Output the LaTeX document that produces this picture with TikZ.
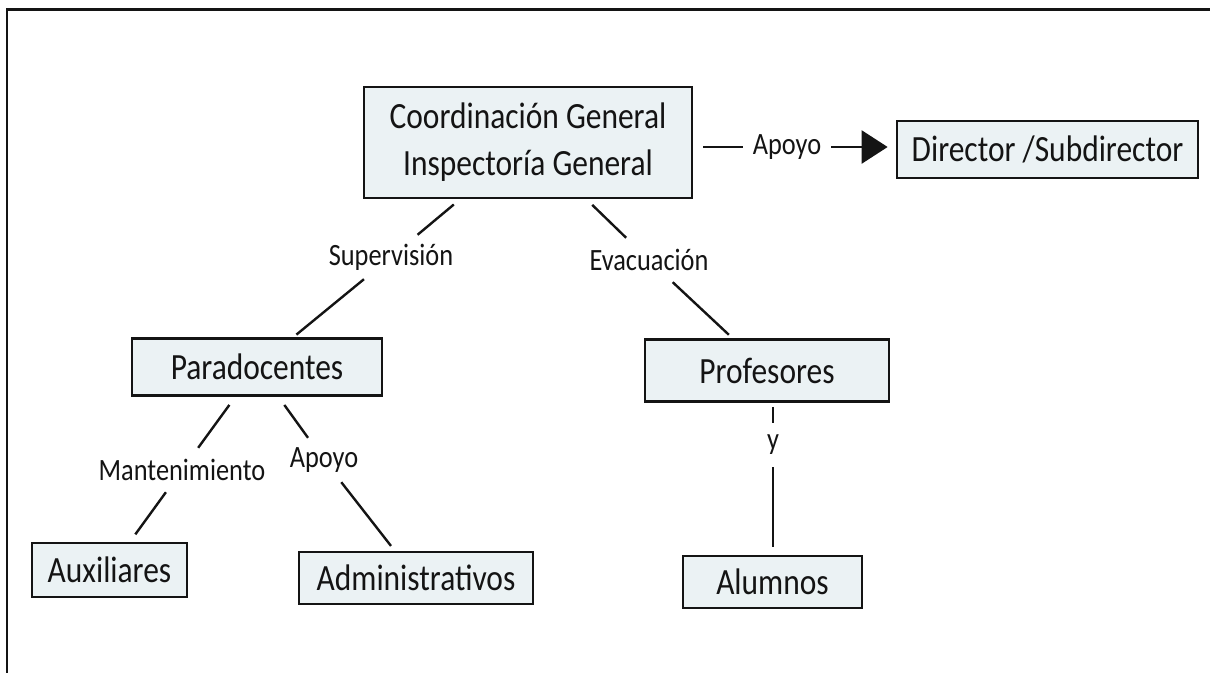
\documentclass[tikz,border=0pt]{standalone}
\usepackage{fontspec}
\setmainfont{Carlito}
\newfontfamily\bxf[FakeStretch=0.85]{Carlito}
\usetikzlibrary{arrows.meta,calc}
\definecolor{boxfill}{HTML}{EBF2F4}
\definecolor{ink}{HTML}{141414}
\begin{document}
\begin{tikzpicture}[x=1pt,y=-1pt,
  box/.style={draw=ink, fill=boxfill, line width=2.7pt, inner sep=0pt,
    font=\bxf\fontsize{37}{47}\selectfont, text=ink, align=center},
  lbl/.style={inner xsep=10pt, inner ysep=0pt, minimum height=44pt,
    font=\bxf\fontsize{31}{37}\selectfont, text=ink},
  conn/.style={draw=ink, line width=2.4pt}]
\useasboundingbox (0,0) rectangle (1210,672);
\begin{scope}
\clip (0,0) rectangle (1210,672);
\draw[line width=2.8pt, draw=ink] (7,680) -- (7,9.5) -- (1215,9.5);
\end{scope}

% boxes
\node[box, minimum width=328pt, minimum height=111pt] (coord) at (528,142.5) {Coordinación General\\Inspectoría General};
\node[box, minimum width=301pt, minimum height=57pt] (dir) at (1047.5,149.5) {Director /Subdirector};
\node[box, minimum width=250pt, minimum height=57pt] (parad) at (257,367) {Paradocentes};
\node[box, minimum width=244pt, minimum height=62pt] (prof) at (767,370.5) {Profesores};
\node[box, minimum width=155pt, minimum height=54pt] (aux) at (109.5,570) {Auxiliares};
\node[box, minimum width=234pt, minimum height=52pt] (adm) at (416,578) {Administrativos};
\node[box, minimum width=179pt, minimum height=52pt] (alum) at (772.5,582) {Alumnos};

% labels
\node[lbl] (lap1) at (787,147) {Apoyo};
\node[lbl] (lsup) at (391,257) {Supervisión};
\node[lbl] (levac) at (649,260) {Evacuación};
\node[lbl] (lmant) at (182,470) {Mantenimiento};
\node[lbl] (lap2) at (324,460) {Apoyo};
\node[lbl] (ly) at (773,445) {y};

% connectors
\draw[conn, shorten <=10pt] (coord.east |- lap1) -- (lap1);
\draw[conn, -{Triangle[length=26pt,width=33pt]}, shorten >=8pt] (lap1) -- (dir.west |- lap1);
\draw[conn, shorten <=8pt] (coord) -- (lsup);
\draw[conn, shorten >=4pt] (lsup) -- (parad);
\draw[conn, shorten <=8pt] (coord) -- (levac);
\draw[conn, shorten >=5pt] (levac) -- (prof);
\draw[conn, shorten <=10pt] (parad) -- (lmant);
\draw[conn, shorten >=9pt] (lmant) -- (aux);
\draw[conn, shorten <=10pt] (parad) -- (lap2);
\draw[conn, shorten >=6pt] (lap2) -- (adm);
\draw[conn, shorten <=4pt] (prof.south -| ly) -- (ly);
\draw[conn, shorten >=8pt] (ly) -- (alum.north -| ly);
\end{tikzpicture}
\end{document}
